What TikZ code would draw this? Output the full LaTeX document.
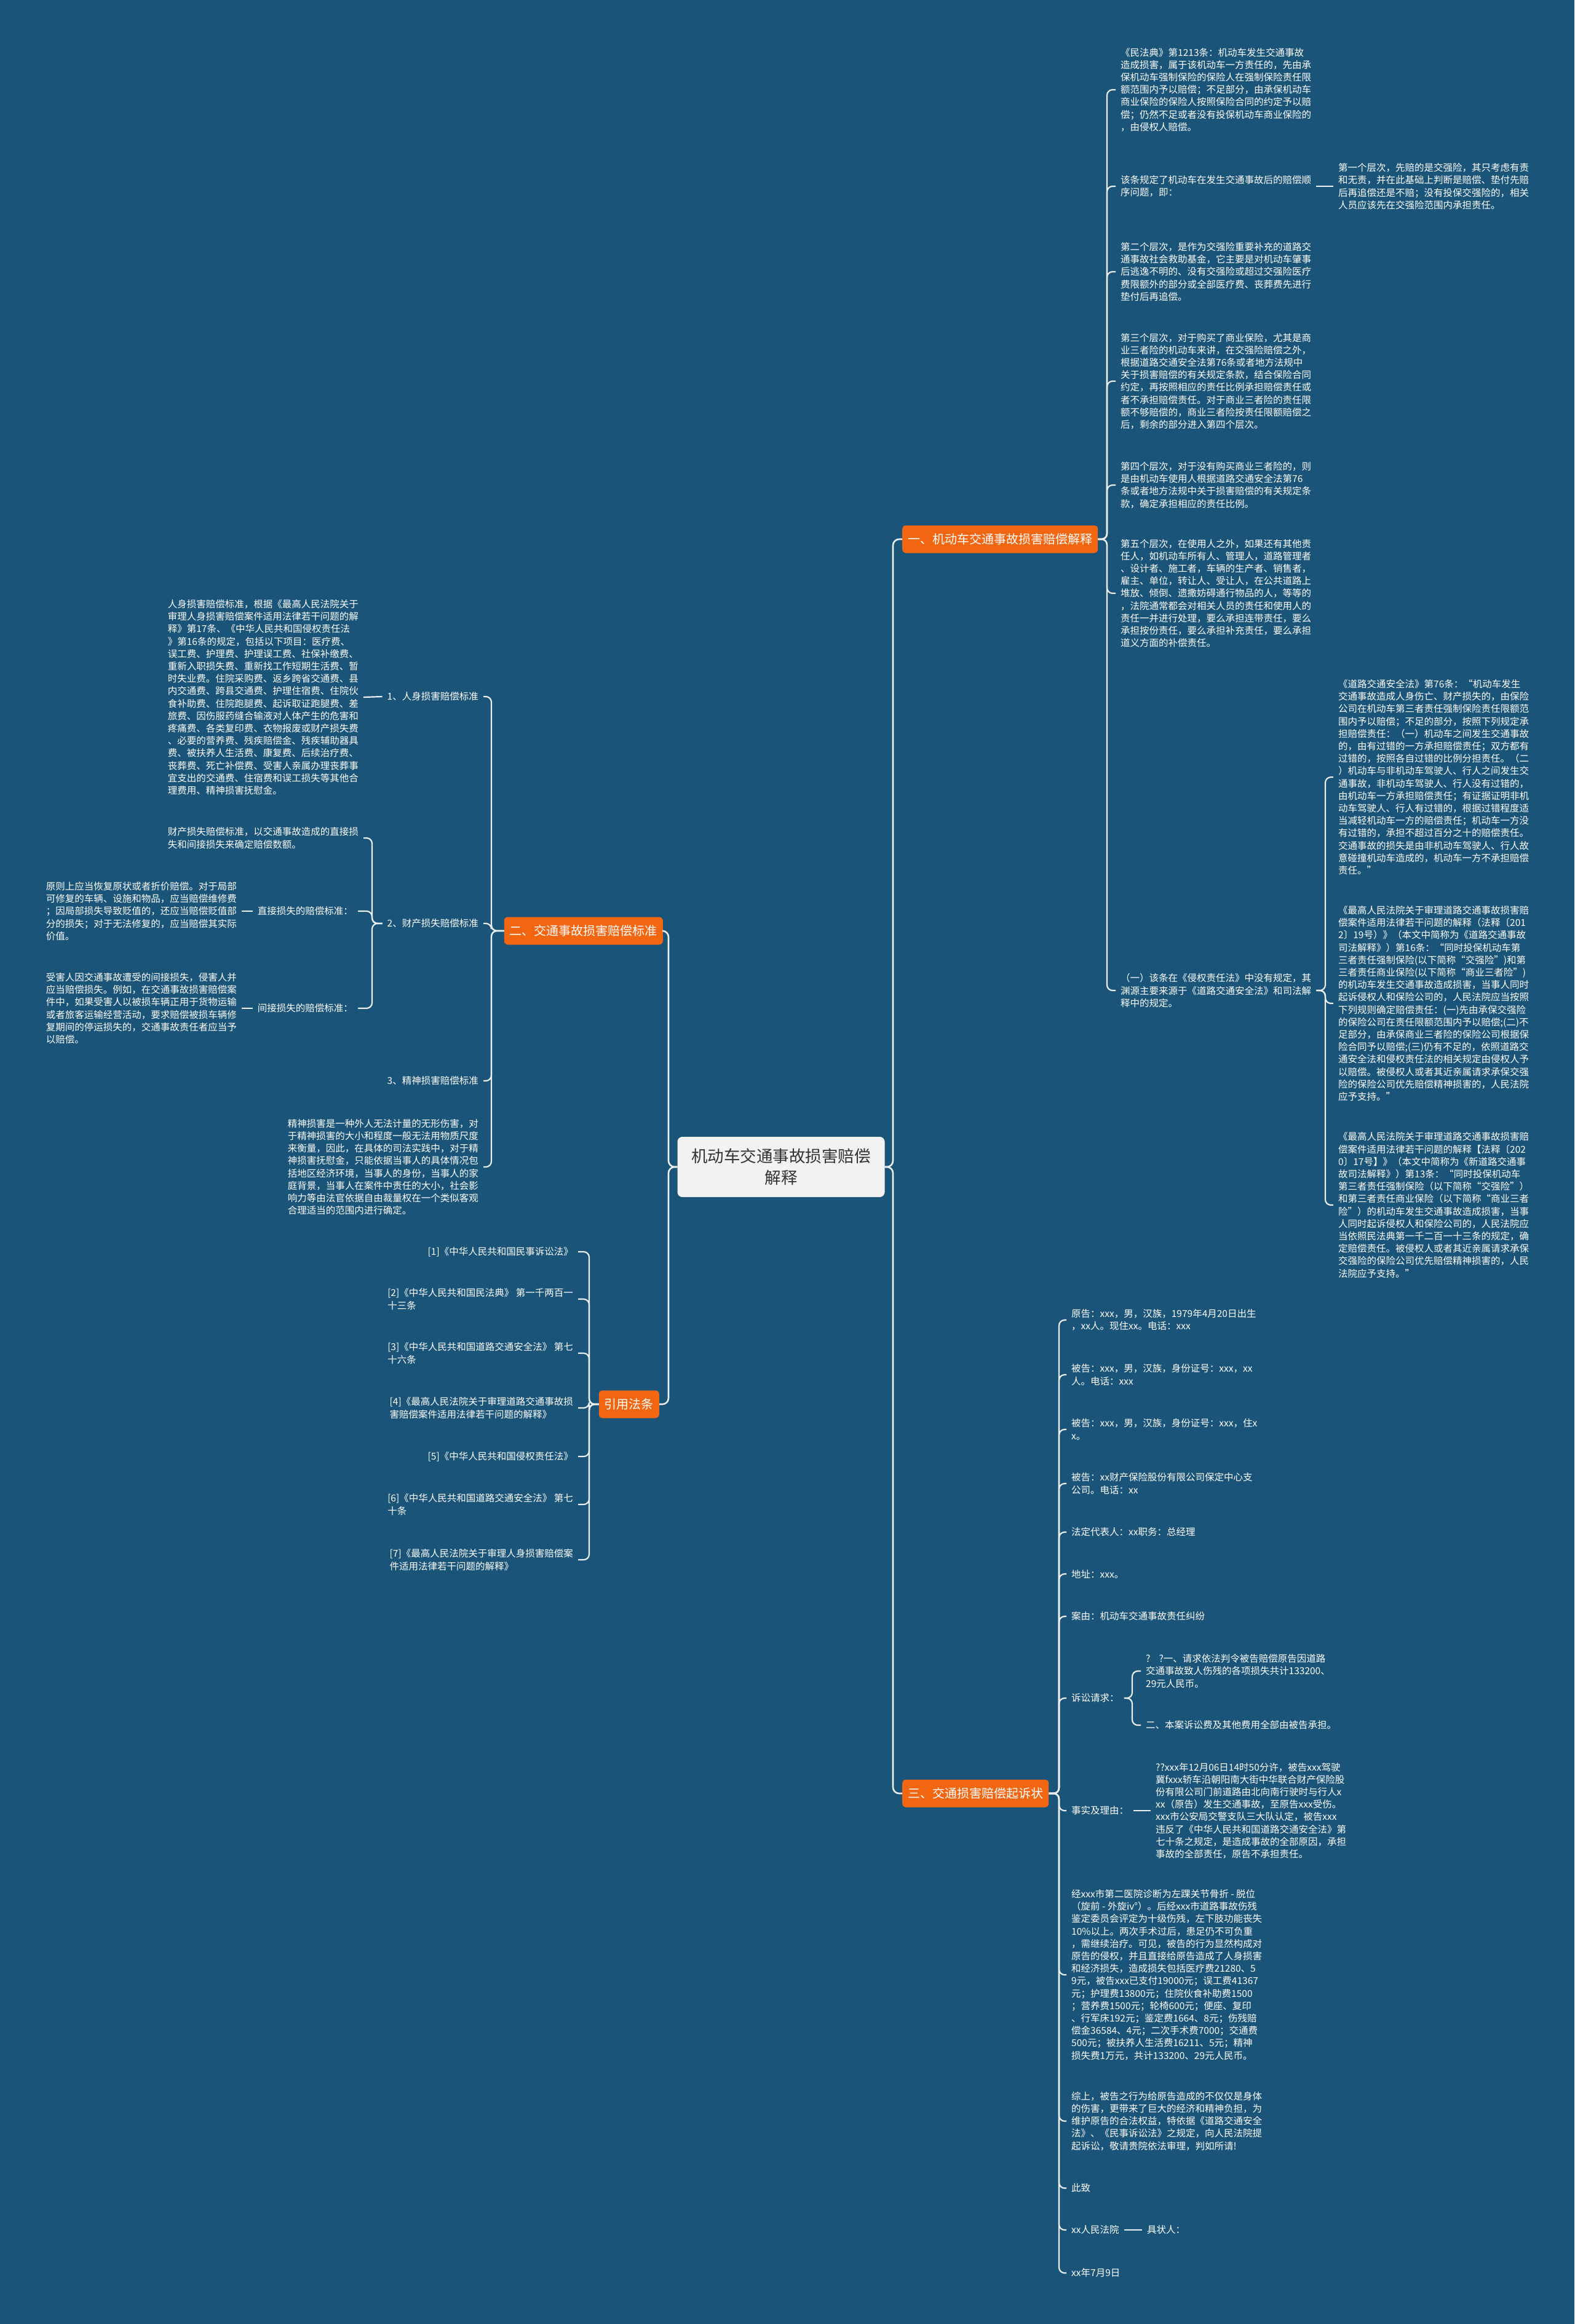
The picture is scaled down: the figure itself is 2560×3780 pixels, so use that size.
\documentclass[tikz,border=0pt]{standalone}
\usepackage{fontspec}
\setmainfont{Noto Sans CJK SC}
\definecolor{bg}{RGB}{26,84,120}
\definecolor{org}{RGB}{242,101,17}
\definecolor{ln}{RGB}{236,240,243}
\definecolor{ctr}{RGB}{242,242,242}
\definecolor{ctrtext}{RGB}{51,51,51}
\begin{document}
\begin{tikzpicture}[x=1pt,y=-1pt,
  leaf/.style={text=white, align=left, inner xsep=8pt, inner ysep=2pt, font=\fontsize{15.5pt}{20.2pt}\selectfont},
  leafR/.style={leaf, anchor=west},
  leafL/.style={leaf, anchor=east},
  branch/.style={fill=org, text=white, rounded corners=6pt, inner xsep=9pt, inner ysep=0pt, minimum height=45pt, font=\fontsize{20pt}{24pt}\selectfont},
  conn/.style={draw=ln, line width=2.2pt, rounded corners=9pt},
  mainconn/.style={draw=ln, line width=2.6pt, rounded corners=10pt}
]
\fill[bg] (0,0) rectangle (2560,3780);
\useasboundingbox (0,0) rectangle (2560,3780);

% spine coordinates
\coordinate (S0R) at (1452,0);
\coordinate (S0L) at (1087,0);
\coordinate (S1) at (1800,0);
\coordinate (S7) at (2155,0);
\coordinate (S2) at (799,0);
\coordinate (S22) at (605,0);
\coordinate (S4) at (958,0);
\coordinate (S3) at (1722,0);
\coordinate (S8) at (1841,0);

% center and branches
\node[fill=ctr, text=ctrtext, rounded corners=8pt, minimum width=337pt, minimum height=98pt, align=center, inner sep=0pt, font=\fontsize{26.5pt}{35pt}\selectfont] (C) at (1270,1898) {机动车交通事故损害赔偿\\解释};
\node[branch, anchor=west] (B1) at (1467,877) {一、机动车交通事故损害赔偿解释};
\node[branch, anchor=west] (B3) at (1467,2917) {三、交通损害赔偿起诉状};
\node[branch, anchor=east] (B2) at (1078,1514) {二、交通事故损害赔偿标准};
\node[branch, anchor=east] (B4) at (1072,2284) {引用法条};

% ===== branch 1 =====
\node[leafR] (R1) at (1814,146) {《民法典》第1213条：机动车发生交通事故\\造成损害，属于该机动车一方责任的，先由承\\保机动车强制保险的保险人在强制保险责任限\\额范围内予以赔偿；不足部分，由承保机动车\\商业保险的保险人按照保险合同的约定予以赔\\偿；仍然不足或者没有投保机动车商业保险的\\，由侵权人赔偿。};
\node[leafR] (R2) at (1814,303) {该条规定了机动车在发生交通事故后的赔偿顺\\序问题，即：};
\node[leafR] (R2a) at (2168,303) {第一个层次，先赔的是交强险，其只考虑有责\\和无责，并在此基础上判断是赔偿、垫付先赔\\后再追偿还是不赔；没有投保交强险的，相关\\人员应该先在交强险范围内承担责任。};
\node[leafR] (R3) at (1814,442) {第二个层次，是作为交强险重要补充的道路交\\通事故社会救助基金，它主要是对机动车肇事\\后逃逸不明的、没有交强险或超过交强险医疗\\费限额外的部分或全部医疗费、丧葬费先进行\\垫付后再追偿。};
\node[leafR] (R4) at (1814,620) {第三个层次，对于购买了商业保险，尤其是商\\业三者险的机动车来讲，在交强险赔偿之外，\\根据道路交通安全法第76条或者地方法规中\\关于损害赔偿的有关规定条款，结合保险合同\\约定，再按照相应的责任比例承担赔偿责任或\\者不承担赔偿责任。对于商业三者险的责任限\\额不够赔偿的，商业三者险按责任限额赔偿之\\后，剩余的部分进入第四个层次。};
\node[leafR] (R5) at (1814,789) {第四个层次，对于没有购买商业三者险的，则\\是由机动车使用人根据道路交通安全法第76\\条或者地方法规中关于损害赔偿的有关规定条\\款，确定承担相应的责任比例。};
\node[leafR] (R6) at (1814,965) {第五个层次，在使用人之外，如果还有其他责\\任人，如机动车所有人、管理人，道路管理者\\、设计者、施工者，车辆的生产者、销售者，\\雇主、单位，转让人、受让人，在公共道路上\\堆放、倾倒、遗撒妨碍通行物品的人，等等的\\，法院通常都会对相关人员的责任和使用人的\\责任一并进行处理，要么承担连带责任，要么\\承担按份责任，要么承担补充责任，要么承担\\道义方面的补偿责任。};
\node[leafR] (R7) at (1814,1611) {（一）该条在《侵权责任法》中没有规定，其\\渊源主要来源于《道路交通安全法》和司法解\\释中的规定。};
\node[leafR] (R7a) at (2168,1264) {《道路交通安全法》第76条：“机动车发生\\交通事故造成人身伤亡、财产损失的，由保险\\公司在机动车第三者责任强制保险责任限额范\\围内予以赔偿；不足的部分，按照下列规定承\\担赔偿责任：（一）机动车之间发生交通事故\\的，由有过错的一方承担赔偿责任；双方都有\\过错的，按照各自过错的比例分担责任。（二\\）机动车与非机动车驾驶人、行人之间发生交\\通事故，非机动车驾驶人、行人没有过错的，\\由机动车一方承担赔偿责任；有证据证明非机\\动车驾驶人、行人有过错的，根据过错程度适\\当减轻机动车一方的赔偿责任；机动车一方没\\有过错的，承担不超过百分之十的赔偿责任。\\交通事故的损失是由非机动车驾驶人、行人故\\意碰撞机动车造成的，机动车一方不承担赔偿\\责任。”};
\node[leafR] (R7b) at (2168,1632) {《最高人民法院关于审理道路交通事故损害赔\\偿案件适用法律若干问题的解释（法释〔201\\2〕19号）》（本文中简称为《道路交通事故\\司法解释》）第16条：“同时投保机动车第\\三者责任强制保险(以下简称“交强险”)和第\\三者责任商业保险(以下简称“商业三者险”)\\的机动车发生交通事故造成损害，当事人同时\\起诉侵权人和保险公司的，人民法院应当按照\\下列规则确定赔偿责任：(一)先由承保交强险\\的保险公司在责任限额范围内予以赔偿;(二)不\\足部分，由承保商业三者险的保险公司根据保\\险合同予以赔偿;(三)仍有不足的，依照道路交\\通安全法和侵权责任法的相关规定由侵权人予\\以赔偿。被侵权人或者其近亲属请求承保交强\\险的保险公司优先赔偿精神损害的，人民法院\\应予支持。”};
\node[leafR] (R7c) at (2168,1960) {《最高人民法院关于审理道路交通事故损害赔\\偿案件适用法律若干问题的解释【法释〔202\\0〕17号】》（本文中简称为《新道路交通事\\故司法解释》）第13条：“同时投保机动车\\第三者责任强制保险（以下简称“交强险”）\\和第三者责任商业保险（以下简称“商业三者\\险”）的机动车发生交通事故造成损害，当事\\人同时起诉侵权人和保险公司的，人民法院应\\当依照民法典第一千二百一十三条的规定，确\\定赔偿责任。被侵权人或者其近亲属请求承保\\交强险的保险公司优先赔偿精神损害的，人民\\法院应予支持。”};

% ===== branch 2 =====
\node[leafL] (L1) at (786,1133) {1、人身损害赔偿标准};
\node[leafL] (L1a) at (591,1134) {人身损害赔偿标准，根据《最高人民法院关于\\审理人身损害赔偿案件适用法律若干问题的解\\释》第17条、《中华人民共和国侵权责任法\\》第16条的规定，包括以下项目：医疗费、\\误工费、护理费、护理误工费、社保补缴费、\\重新入职损失费、重新找工作短期生活费、暂\\时失业费。住院采购费、返乡跨省交通费、县\\内交通费、跨县交通费、护理住宿费、住院伙\\食补助费、住院跑腿费、起诉取证跑腿费、差\\旅费、因伤服药缝合输液对人体产生的危害和\\疼痛费、各类复印费、衣物报废或财产损失费\\、必要的营养费、残疾赔偿金、残疾辅助器具\\费、被扶养人生活费、康复费、后续治疗费、\\丧葬费、死亡补偿费、受害人亲属办理丧葬事\\宜支出的交通费、住宿费和误工损失等其他合\\理费用、精神损害抚慰金。};
\node[leafL] (L2) at (786,1502) {2、财产损失赔偿标准};
\node[leafL] (L2a) at (591,1363) {财产损失赔偿标准，以交通事故造成的直接损\\失和间接损失来确定赔偿数额。};
\node[leafL] (L2b) at (582,1482) {直接损失的赔偿标准：};
\node[leafL] (L2b1) at (393,1482) {原则上应当恢复原状或者折价赔偿。对于局部\\可修复的车辆、设施和物品，应当赔偿维修费\\；因局部损失导致贬值的，还应当赔偿贬值部\\分的损失；对于无法修复的，应当赔偿其实际\\价值。};
\node[leafL] (L2c) at (582,1640) {间接损失的赔偿标准：};
\node[leafL] (L2c1) at (393,1640) {受害人因交通事故遭受的间接损失，侵害人并\\应当赔偿损失。例如，在交通事故损害赔偿案\\件中，如果受害人以被损车辆正用于货物运输\\或者旅客运输经营活动，要求赔偿被损车辆修\\复期间的停运损失的，交通事故责任者应当予\\以赔偿。};
\node[leafL] (L3) at (786,1758) {3、精神损害赔偿标准};
\node[leafL] (L4) at (786,1898) {精神损害是一种外人无法计量的无形伤害，对\\于精神损害的大小和程度一般无法用物质尺度\\来衡量，因此，在具体的司法实践中，对于精\\神损害抚慰金，只能依据当事人的具体情况包\\括地区经济环境，当事人的身份，当事人的家\\庭背景，当事人在案件中责任的大小，社会影\\响力等由法官依据自由裁量权在一个类似客观\\合理适当的范围内进行确定。};

% ===== branch 4 (引用法条) =====
\node[leafL] (F1) at (940,2036) {[1]《中华人民共和国民事诉讼法》};
\node[leafL] (F2) at (940,2113) {[2]《中华人民共和国民法典》 第一千两百一\\十三条};
\node[leafL] (F3) at (940,2201) {[3]《中华人民共和国道路交通安全法》 第七\\十六条};
\node[leafL] (F4) at (940,2290) {[4]《最高人民法院关于审理道路交通事故损\\害赔偿案件适用法律若干问题的解释》};
\node[leafL] (F5) at (940,2369) {[5]《中华人民共和国侵权责任法》};
\node[leafL] (F6) at (940,2447) {[6]《中华人民共和国道路交通安全法》 第七\\十条};
\node[leafL] (F7) at (940,2537) {[7]《最高人民法院关于审理人身损害赔偿案\\件适用法律若干问题的解释》};

% ===== branch 3 =====
\node[leafR] (D1) at (1734,2147) {原告：xxx，男，汉族，1979年4月20日出生\\，xx人。现住xx。电话：xxx};
\node[leafR] (D2) at (1734,2236) {被告：xxx，男，汉族，身份证号：xxx，xx\\人。电话：xxx};
\node[leafR] (D3) at (1734,2325) {被告：xxx，男，汉族，身份证号：xxx，住x\\x。};
\node[leafR] (D4) at (1734,2413) {被告：xx财产保险股份有限公司保定中心支\\公司。电话：xx};
\node[leafR] (D5) at (1734,2492) {法定代表人：xx职务：总经理};
\node[leafR] (D6) at (1734,2560) {地址：xxx。};
\node[leafR] (D7) at (1734,2629) {案由：机动车交通事故责任纠纷};
\node[leafR] (D8) at (1734,2762) {诉讼请求：};
\node[leafR] (D8a) at (1855,2718) {?\hspace{14pt}?一、请求依法判令被告赔偿原告因道路\\交通事故致人伤残的各项损失共计133200、\\29元人民币。};
\node[leafR] (D8b) at (1855,2806) {二、本案诉讼费及其他费用全部由被告承担。};
\node[leafR] (D9) at (1734,2945) {事实及理由：};
\node[leafR] (D9a) at (1871,2945) {??xxx年12月06日14时50分许，被告xxx驾驶\\冀fxxx轿车沿朝阳南大街中华联合财产保险股\\份有限公司门前道路由北向南行驶时与行人x\\xx（原告）发生交通事故，至原告xxx受伤。\\xxx市公安局交警支队三大队认定，被告xxx\\违反了《中华人民共和国道路交通安全法》第\\七十条之规定，是造成事故的全部原因，承担\\事故的全部责任，原告不承担责任。};
\node[leafR] (D10) at (1734,3212) {经xxx市第二医院诊断为左踝关节骨折 - 脱位\\（旋前 - 外旋iv°）。后经xxx市道路事故伤残\\鉴定委员会评定为十级伤残，左下肢功能丧失\\10\%以上。两次手术过后，患足仍不可负重\\，需继续治疗。可见，被告的行为显然构成对\\原告的侵权，并且直接给原告造成了人身损害\\和经济损失，造成损失包括医疗费21280、5\\9元，被告xxx已支付19000元；误工费41367\\元；护理费13800元；住院伙食补助费1500\\；营养费1500元；轮椅600元；便座、复印\\、行军床192元；鉴定费1664、8元；伤残赔\\偿金36584、4元；二次手术费7000；交通费\\500元；被扶养人生活费16211、5元；精神\\损失费1万元，共计133200、29元人民币。};
\node[leafR] (D11) at (1734,3450) {综上，被告之行为给原告造成的不仅仅是身体\\的伤害，更带来了巨大的经济和精神负担，为\\维护原告的合法权益，特依据《道路交通安全\\法》、《民事诉讼法》之规定，向人民法院提\\起诉讼，敬请贵院依法审理，判如所请!};
\node[leafR] (D12) at (1734,3559) {此致};
\node[leafR] (D13) at (1734,3627) {xx人民法院};
\node[leafR] (D13a) at (1857,3627) {具状人：};
\node[leafR] (D14) at (1734,3697) {xx年7月9日};

% ===== connectors =====
\draw[mainconn] (C.east) -- (C.east -| S0R) |- (B1.west);
\draw[mainconn] (C.east) -- (C.east -| S0R) |- (B3.west);
\draw[mainconn] (C.west) -- (C.west -| S0L) |- (B2.east);
\draw[mainconn] (C.west) -- (C.west -| S0L) |- (B4.east);

\foreach \n in {R1,R2,R3,R4,R5,R6,R7}
  \draw[conn] (B1.east) -- (B1.east -| S1) |- (\n.west);
\draw[conn] (R2.east) -- (R2a.west);
\foreach \n in {R7a,R7b,R7c}
  \draw[conn] (R7.east) -- (R7.east -| S7) |- (\n.west);

\foreach \n in {L1,L2,L3,L4}
  \draw[conn] (B2.west) -- (B2.west -| S2) |- (\n.east);
\draw[conn] (L1.west) -- (L1a.east);
\foreach \n in {L2a,L2b,L2c}
  \draw[conn] (L2.west) -- (L2.west -| S22) |- (\n.east);
\draw[conn] (L2b.west) -- (L2b1.east);
\draw[conn] (L2c.west) -- (L2c1.east);

\foreach \n in {F1,F2,F3,F4,F5,F6,F7}
  \draw[conn] (B4.west) -- (B4.west -| S4) |- (\n.east);

\foreach \n in {D1,D2,D3,D4,D5,D6,D7,D8,D9,D10,D11,D12,D13,D14}
  \draw[conn] (B3.east) -- (B3.east -| S3) |- (\n.west);
\foreach \n in {D8a,D8b}
  \draw[conn] (D8.east) -- (D8.east -| S8) |- (\n.west);
\draw[conn] (D9.east) -- (D9a.west);
\draw[conn] (D13.east) -- (D13a.west);
\end{tikzpicture}
\end{document}
